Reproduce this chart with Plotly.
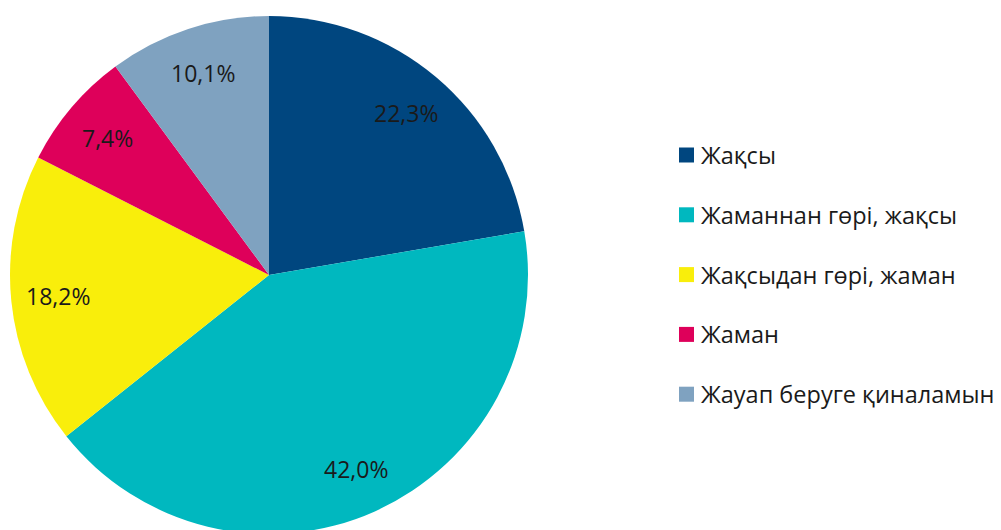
import math
import plotly.graph_objects as go

categories = ["Жақсы", "Жаманнан гөрі, жақсы", "Жақсыдан гөрі, жаман", "Жаман", "Жауап беруге қиналамын"]
values = [22.3, 42.0, 18.2, 7.4, 10.1]
colors = ["#00467f", "#00b8bf", "#f9ee0b", "#de005a", "#7fa2c0"]

labels = [f"{v:.1f}".replace(".", ",") + "%" for v in values]

# figure geometry (pixels); the html body adds an 8px offset
W, H = 993, 530
ml, mr, mt, mb = 2, 0, 8, 4
pw, ph = W - ml - mr, H - mt - mb
R = ph / 2  # pie radius in px
FONT = "Open Sans"
TXT = "#1a1a1a"

fig = go.Figure()

fig.add_trace(go.Pie(
    labels=categories,
    values=values,
    textinfo="none",
    marker=dict(colors=colors, line=dict(width=0)),
    sort=False,
    direction="clockwise",
    rotation=0,
    showlegend=False,
    domain=dict(x=[0, 2 * R / pw], y=[0, 1]),
    hoverinfo="label+percent",
))

# percentage labels placed along each slice bisector
cx, cy = R / pw, 0.5
total = sum(values)
cum = 0
for v, t in zip(values, labels):
    mid = (cum + v / 2) / total * 2 * math.pi
    cum += v
    r = 0.82 * R
    fig.add_annotation(
        x=cx + r * math.sin(mid) / pw, y=cy + r * math.cos(mid) / ph,
        xref="paper", yref="paper", xanchor="center", yanchor="middle",
        text=t, showarrow=False,
        font=dict(family=FONT, size=23, color=TXT),
    )

# legend: square swatch + text
leg_x, leg_y0, leg_dy = 671, 147, 59.8
for i, (name, c) in enumerate(zip(categories, colors)):
    py = leg_y0 + i * leg_dy
    fig.add_shape(
        type="rect", xref="paper", yref="paper",
        x0=(leg_x - ml) / pw, x1=(leg_x + 15 - ml) / pw,
        y0=(H - mb - (py + 7.5)) / ph, y1=(H - mb - (py - 7.5)) / ph,
        fillcolor=c, line=dict(width=0),
    )
    fig.add_annotation(
        x=(leg_x + 20 - ml) / pw, y=(H - mb - py) / ph,
        xref="paper", yref="paper", xanchor="left", yanchor="middle",
        text=name, showarrow=False,
        font=dict(family=FONT, size=23.5, color=TXT),
    )

fig.update_layout(
    width=W, height=H,
    margin=dict(l=ml, r=mr, t=mt, b=mb),
    paper_bgcolor="white", plot_bgcolor="white",
    showlegend=False,
)

fig.write_html("out.html")
